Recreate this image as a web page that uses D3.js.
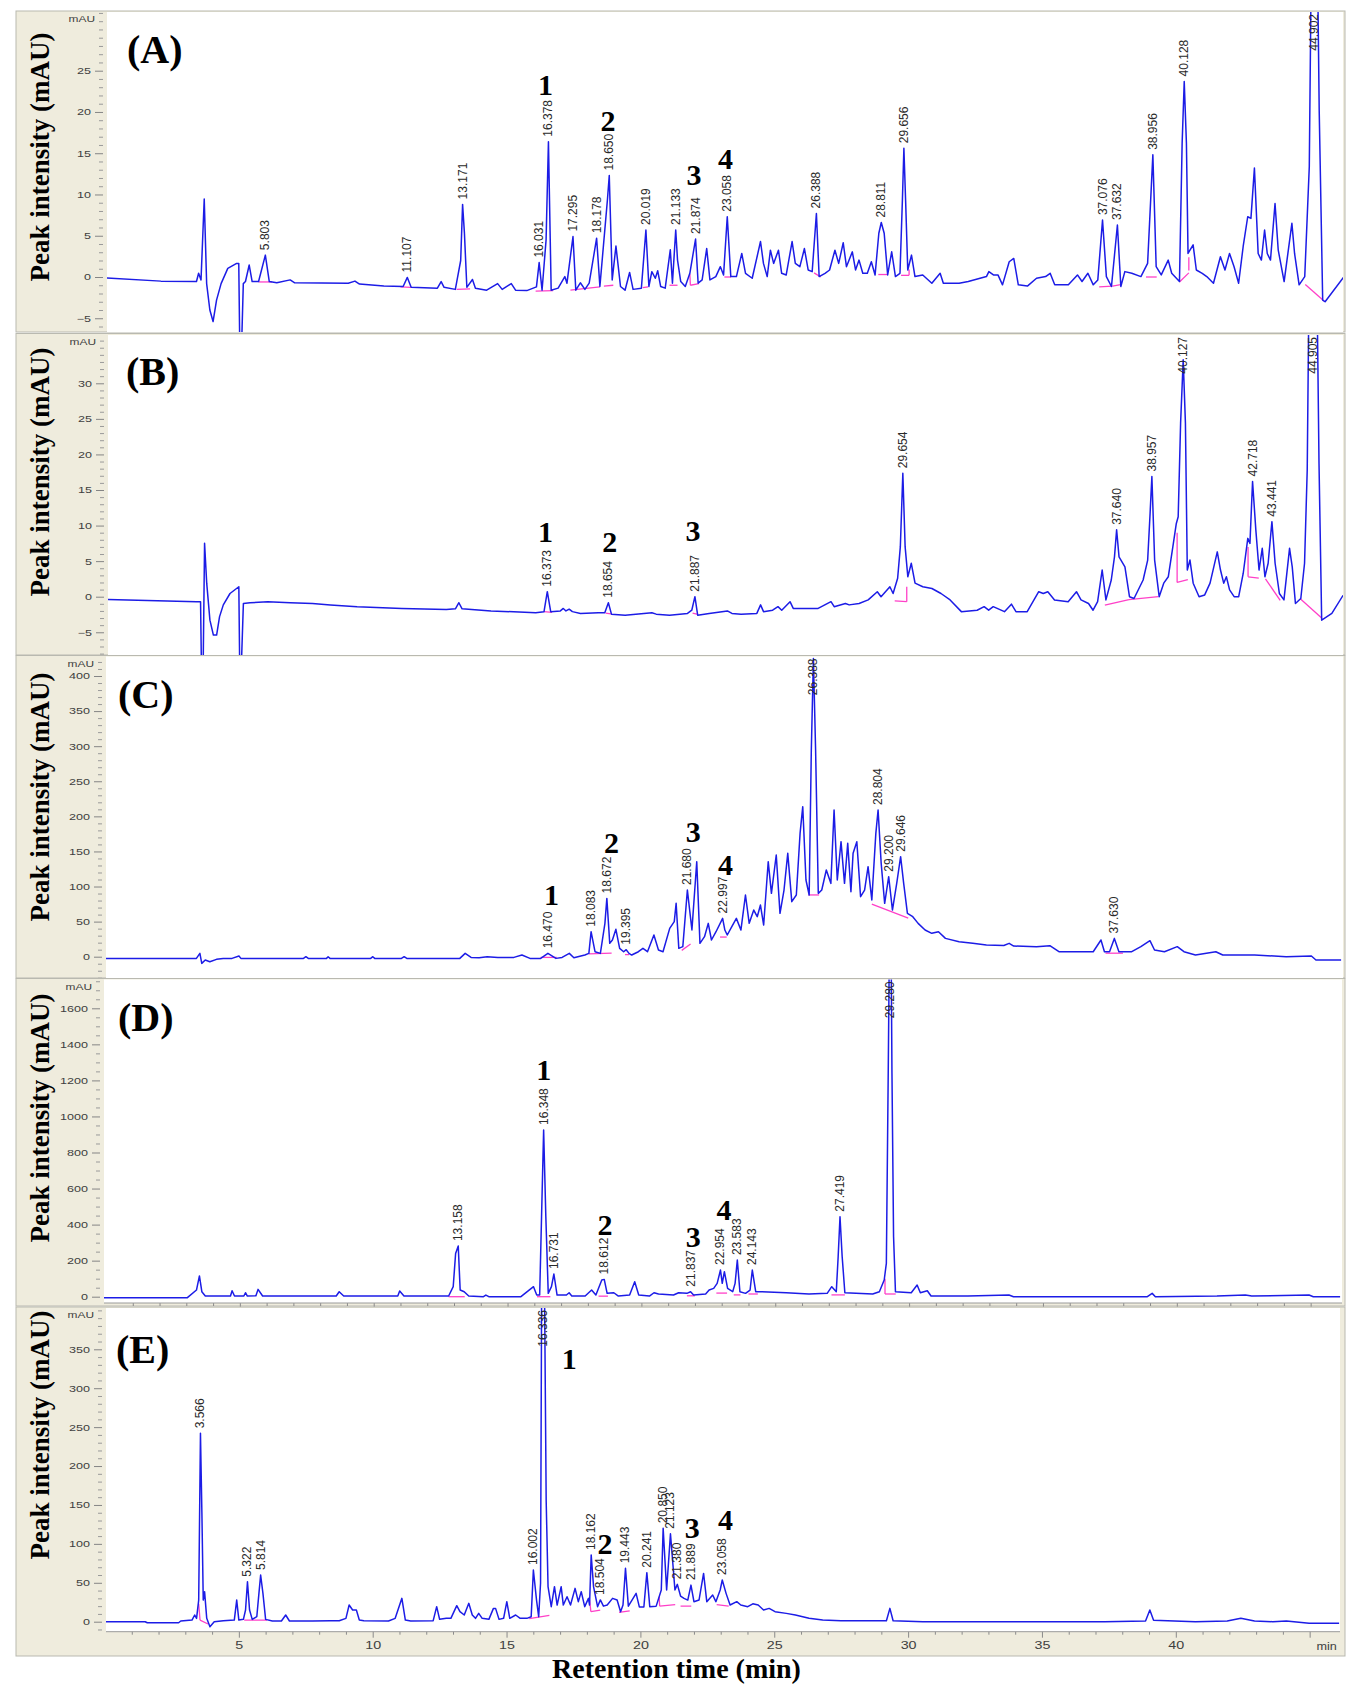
<!DOCTYPE html>
<html><head><meta charset="utf-8">
<script src="https://cdn.jsdelivr.net/npm/d3@7"></script>
<style>body{margin:0;background:#fff}svg{display:block}</style>
</head><body>
<svg id="chart" width="1363" height="1687"></svg>
<script>
// ---------------- DATA (retention time in min, intensity in mAU) ----------------
const timeTicks = [5,10,15,20,25,30,35,40];
const panelIds = ["A","B","C","D","E"];
const panelLetters = ["(A)","(B)","(C)","(D)","(E)"];
const yTitle = "Peak intensity (mAU)";
const xTitle = "Retention time (min)";

const yTicksA = [-5,0,5,10,15,20,25];
const yTicksB = [-5,0,5,10,15,20,25,30];
const yTicksC = [0,50,100,150,200,250,300,350,400];
const yTicksD = [0,200,400,600,800,1000,1200,1400,1600];
const yTicksE = [0,50,100,150,200,250,300,350];

const traceA = [[-0.15,-0.1],[1.9,-0.5],[3.23,-0.55],[3.31,0.45],[3.40,-0.35],[3.52,9.45],[3.61,-0.8],[3.73,-4.0],[3.85,-5.4],[3.98,-2.8],[4.15,-0.8],[4.40,1.05],[4.73,1.65],[4.81,1.65],[4.85,-9],[4.91,-9],[4.98,-0.8],[5.06,-0.55],[5.20,1.45],[5.31,-0.55],[5.55,-0.55],[5.803,2.65],[5.95,-0.55],[6.23,-0.7],[6.73,-0.35],[6.90,-0.7],[8.9,-0.75],[9.15,-0.5],[9.32,-0.85],[10.23,-1.1],[10.95,-1.15],[11.107,-0.05],[11.25,-1.25],[12.23,-1.35],[12.37,-0.55],[12.48,-1.25],[12.9,-1.5],[13.1,2.0],[13.171,8.8],[13.24,5.3],[13.33,-1.25],[13.54,-0.3],[13.65,-1.35],[14.07,-1.6],[14.48,-0.8],[14.65,-1.5],[14.99,-0.8],[15.15,-1.6],[15.57,-1.65],[15.93,-1.2],[16.031,1.75],[16.14,-1.6],[16.29,4.5],[16.378,16.4],[16.48,-1.6],[16.74,-1.35],[16.99,0.05],[17.07,-0.75],[17.295,4.9],[17.40,-1.6],[17.57,-0.7],[17.74,-1.5],[17.90,-0.75],[18.178,4.7],[18.30,-1.15],[18.58,9.3],[18.650,12.3],[18.76,-0.35],[18.90,3.75],[19.07,-1.15],[19.24,-1.6],[19.41,0.55],[19.54,-1.5],[19.85,-1.35],[20.019,5.7],[20.13,-1.15],[20.24,0.65],[20.37,-0.15],[20.46,0.75],[20.57,-1.15],[20.74,-1.35],[20.93,3.3],[21.01,-0.75],[21.133,5.7],[21.2,2.05],[21.32,-0.55],[21.49,-1.15],[21.66,0.45],[21.874,4.6],[21.97,-0.75],[22.12,-0.35],[22.29,3.45],[22.41,-0.35],[22.63,0.05],[22.80,1.25],[22.92,0.25],[23.058,7.3],[23.19,0.05],[23.40,0.05],[23.60,2.85],[23.74,0.45],[23.99,-0.15],[24.30,4.3],[24.41,1.65],[24.55,0.05],[24.67,3.25],[24.79,1.65],[24.97,3.25],[25.09,0.45],[25.26,0.25],[25.48,4.3],[25.60,1.65],[25.77,1.25],[25.94,3.45],[26.08,0.85],[26.23,0.65],[26.388,7.7],[26.49,0.05],[26.71,0.45],[26.88,0.85],[27.08,3.25],[27.22,1.65],[27.39,4.15],[27.51,1.25],[27.73,3.05],[27.85,0.85],[27.98,2.05],[28.12,0.45],[28.29,0.45],[28.44,1.85],[28.58,0.25],[28.72,5.3],[28.811,6.6],[28.92,5.3],[29.05,0.25],[29.20,3.05],[29.34,0.05],[29.51,0.45],[29.60,9.3],[29.656,15.6],[29.72,9.3],[29.80,0.85],[29.94,2.65],[30.07,0.05],[30.36,0.25],[30.70,-0.75],[31.01,0.45],[31.13,-0.75],[31.72,-0.75],[32.06,-0.55],[32.74,0.05],[32.83,0.65],[33.0,0.25],[33.17,0.25],[33.34,-0.95],[33.59,1.85],[33.76,2.25],[33.93,-0.95],[34.27,-1.1],[34.61,-0.15],[34.95,0.05],[35.12,0.45],[35.29,-0.95],[35.80,-0.95],[36.14,0.25],[36.31,-0.55],[36.53,0.45],[36.73,-0.95],[36.90,-0.35],[37.076,6.9],[37.22,0.05],[37.41,-1.15],[37.632,6.3],[37.76,-1.15],[37.91,0.65],[38.17,0.45],[38.51,0.05],[38.76,1.65],[38.956,14.8],[39.08,1.25],[39.27,0.25],[39.53,2.05],[39.66,0.45],[39.95,-0.55],[40.05,16.2],[40.128,23.7],[40.21,16.2],[40.27,2.85],[40.46,3.9],[40.58,0.85],[40.8,0.45],[40.97,0.05],[41.22,-0.75],[41.48,2.45],[41.65,0.85],[41.82,2.85],[41.99,1.25],[42.16,-0.75],[42.33,3.7],[42.50,7.3],[42.62,7.1],[42.75,13.2],[42.89,2.85],[43.01,2.05],[43.13,5.7],[43.23,2.85],[43.35,2.05],[43.52,8.9],[43.64,3.25],[43.86,-0.55],[44.15,6.5],[44.25,2.85],[44.42,-0.95],[44.63,0.05],[44.80,13.4],[44.88,40],[44.902,40],[45.10,40],[45.17,20.2],[45.30,-2.8],[45.39,-3.0],[46.1,0.05]];

const traceB = [[-0.15,-0.4],[3.27,-0.7],[3.42,-0.7],[3.45,-9],[3.52,-9],[3.57,7.5],[3.65,1.9],[3.77,-3.3],[3.90,-5.4],[4.02,-5.4],[4.13,-2.8],[4.27,-1.15],[4.52,0.45],[4.85,1.4],[4.88,-9],[4.95,-9],[5.02,-0.95],[5.27,-0.85],[5.93,-0.7],[6.77,-0.85],[7.60,-0.95],[8.27,-1.15],[9.27,-1.4],[10.94,-1.65],[12.6,-1.8],[12.94,-1.7],[13.07,-0.85],[13.19,-1.7],[14.27,-2.0],[15.94,-2.25],[16.25,-2.1],[16.373,0.7],[16.50,-2.1],[16.86,-2.0],[16.97,-1.65],[17.07,-2.0],[17.19,-1.75],[17.31,-2.1],[17.61,-2.35],[18.28,-2.25],[18.52,-2.25],[18.654,-0.85],[18.77,-2.45],[19.28,-2.6],[20.28,-2.25],[20.44,-2.45],[20.94,-2.6],[21.61,-2.35],[21.77,-1.9],[21.887,0.0],[21.99,-2.6],[22.42,-2.35],[23.10,-2.0],[23.27,-2.35],[23.61,-2.45],[24.20,-2.35],[24.34,-1.15],[24.45,-2.1],[24.79,-1.9],[24.99,-1.4],[25.13,-1.9],[25.44,-0.7],[25.56,-1.65],[26.32,-1.65],[26.49,-1.65],[26.97,-0.7],[27.09,-1.4],[27.51,-0.95],[27.65,-1.15],[28.02,-0.95],[28.36,-0.45],[28.70,0.7],[28.84,0.0],[29.17,1.4],[29.29,0.45],[29.46,2.6],[29.56,7.0],[29.654,17.35],[29.74,7.0],[29.84,2.8],[29.97,4.7],[30.11,1.9],[30.40,1.4],[30.74,1.15],[31.08,0.45],[31.42,-0.45],[31.84,-2.1],[32.43,-1.9],[32.69,-1.4],[32.86,-1.9],[33.03,-1.4],[33.45,-2.1],[33.71,-1.05],[33.88,-2.1],[34.30,-2.1],[34.73,0.7],[34.90,0.45],[35.07,0.7],[35.32,-0.45],[35.83,-0.7],[36.14,0.7],[36.31,-0.45],[36.59,-0.95],[36.76,-1.9],[36.93,-0.7],[37.10,3.75],[37.24,-0.45],[37.44,2.35],[37.56,5.6],[37.640,9.4],[37.73,5.6],[37.95,4.2],[38.12,0.0],[38.29,-0.25],[38.63,2.35],[38.80,5.15],[38.89,11.7],[38.957,16.9],[39.06,5.15],[39.23,0.0],[39.40,1.9],[39.57,2.8],[39.74,7.0],[39.87,10.3],[39.94,11.25],[40.03,24.4],[40.127,33.3],[40.21,24.4],[40.28,3.75],[40.38,5.15],[40.50,1.9],[40.72,0.0],[40.93,0.25],[41.13,1.9],[41.40,6.3],[41.52,3.75],[41.64,1.9],[41.74,2.8],[41.86,0.95],[42.03,0.0],[42.20,0.0],[42.37,3.3],[42.54,8.2],[42.62,7.5],[42.718,16.2],[42.84,9.4],[42.96,3.75],[43.08,6.8],[43.18,2.8],[43.30,4.7],[43.441,10.55],[43.56,4.7],[43.72,0.45],[43.89,-0.45],[44.10,6.8],[44.20,4.2],[44.32,-0.95],[44.52,-0.25],[44.66,4.7],[44.76,17.8],[44.83,45],[44.905,45],[45.12,45],[45.20,18.75],[45.30,-3.3],[45.68,-2.35],[46.1,0.2]];

const traceC = [[-0.15,-2.4],[3.34,-2.4],[3.47,4.75],[3.54,-9.5],[3.67,-4.75],[3.84,-7.1],[4.09,-3.8],[4.34,-2.4],[4.67,-2.4],[4.93,0.95],[5.0,-2.4],[7.34,-2.4],[7.43,0],[7.52,-2.4],[8.2,-2.4],[8.26,0],[8.33,-2.4],[9.85,-2.4],[9.93,0],[10.0,-2.4],[11.0,-2.4],[11.1,0],[11.2,-2.4],[13.18,-2.4],[13.38,4.75],[13.6,-1],[13.9,-1.5],[14.2,0],[14.6,-1],[15.2,-1],[15.5,2.4],[15.8,-2.4],[16.2,-2.4],[16.470,4.75],[16.77,-2.4],[17.0,-1],[17.27,4.75],[17.44,-1.4],[17.85,2.4],[18.0,4.75],[18.083,35.6],[18.23,7.1],[18.43,4.75],[18.6,47.5],[18.672,83.1],[18.78,19],[18.88,23.8],[19.01,39.0],[19.15,11.9],[19.30,7.1],[19.395,10],[19.50,4.75],[19.60,2.4],[19.85,7.1],[20.02,11.9],[20.19,7.1],[20.43,30.9],[20.6,9.5],[20.77,7.1],[21.02,40.4],[21.19,49.9],[21.26,76.0],[21.36,11.9],[21.51,14.3],[21.680,95],[21.85,38],[22.03,135.4],[22.15,19],[22.32,28.5],[22.46,47.5],[22.58,23.8],[22.75,35.6],[22.997,54.6],[23.08,38],[23.17,30.9],[23.34,42.8],[23.51,54.6],[23.68,38],[23.85,87.9],[23.99,47.5],[24.16,66.5],[24.29,57],[24.41,73.6],[24.53,45.1],[24.70,135.4],[24.82,90.3],[25.0,144.9],[25.14,61.8],[25.29,95],[25.43,147.3],[25.58,78.4],[25.75,87.9],[25.89,175.8],[25.99,213.8],[26.11,109.3],[26.23,87.9],[26.31,294.5],[26.388,425],[26.47,294.5],[26.57,90.3],[26.70,95],[26.87,123.5],[27.04,104.5],[27.16,209],[27.28,109.3],[27.42,163.9],[27.55,104.5],[27.67,161.5],[27.79,92.6],[27.87,147.3],[28.01,163.9],[28.15,85.5],[28.30,95],[28.43,128.3],[28.57,80.8],[28.72,175.8],[28.804,209],[28.92,133],[29.05,76],[29.200,114],[29.34,66.5],[29.50,104.5],[29.646,142.5],[29.76,104.5],[29.90,61.8],[30.10,57],[30.30,47.5],[30.56,38],[30.81,33.3],[31.06,35.6],[31.32,26.1],[31.83,21.4],[32.34,19],[32.85,16.6],[33.5,16],[33.70,19],[33.87,15.2],[34.72,14.3],[35.22,15.7],[35.56,7.1],[36.24,7.1],[36.84,7.1],[37.13,23.8],[37.26,7.1],[37.45,7.1],[37.630,26.1],[37.80,7.1],[38.28,7.1],[38.62,14.3],[38.96,22.8],[39.13,9.5],[39.5,7.1],[39.98,14.3],[40.23,7.1],[40.66,2.4],[41.42,7.1],[41.68,2.4],[42.87,2.4],[44.05,0],[44.99,1],[45.16,-4.75],[46.1,-4.75]];

const traceD = [[-0.15,-5.5],[3.04,-5.5],[3.38,37],[3.49,115],[3.58,27.7],[3.71,3.7],[4.21,3.7],[4.65,3.7],[4.71,33],[4.8,3.7],[5.15,3.7],[5.21,22],[5.28,3.7],[5.6,5],[5.68,40.7],[5.85,3.7],[6.38,3.7],[8.6,3.7],[8.71,27.7],[8.88,3.7],[9.55,3.7],[10.9,3.7],[10.97,31.4],[11.13,3.7],[12.8,3.7],[12.97,55.5],[13.06,240],[13.158,281],[13.23,37],[13.38,27.7],[13.55,3.7],[14.1,0],[14.19,9.2],[14.3,0],[15.5,0],[15.97,55.5],[16.09,9.2],[16.2,9.2],[16.27,444],[16.348,925],[16.43,444],[16.52,18.5],[16.64,55.5],[16.731,126],[16.85,9.2],[17.2,9.2],[17.30,22.2],[17.4,3.7],[17.9,3.7],[18.14,37],[18.3,9.2],[18.52,92.5],[18.612,96],[18.72,18.5],[18.97,22],[19.14,3.7],[19.56,9.2],[19.75,83],[19.9,9.2],[20.3,3.7],[20.47,22],[20.64,14.8],[21.2,9.2],[21.39,22],[21.7,18.5],[21.837,27.7],[21.95,9.2],[22.4,14.8],[22.53,37],[22.70,46],[22.83,74],[22.954,148],[23.02,74],[23.10,139],[23.22,46],[23.41,27.7],[23.50,74],[23.583,203],[23.68,27.7],[23.89,18.5],[24.06,37],[24.143,148],[24.27,27.7],[24.48,27.7],[25.41,22],[26.26,14.8],[26.94,18.5],[27.11,55.5],[27.28,27.7],[27.35,222],[27.419,444],[27.50,222],[27.6,22],[28.64,14.8],[28.89,27.7],[29.07,92.5],[29.15,185],[29.22,1239],[29.26,1900],[29.280,1900],[29.33,1900],[29.36,1239],[29.42,333],[29.49,27.7],[30.08,22],[30.30,64.7],[30.42,22],[30.68,33.3],[30.82,3.7],[31.36,3.7],[32.2,3.7],[33.73,9.2],[33.9,0],[38.9,0],[39.08,18.5],[39.2,0],[41.5,3.7],[42.56,9.2],[42.8,3.7],[44.94,9.2],[45.1,0],[46.1,0]];

const traceE = [[-0.15,0],[1.5,0],[1.58,-1.3],[2.75,-1.3],[2.83,0.9],[3.25,2.1],[3.35,8.6],[3.42,4.3],[3.50,27.8],[3.566,242],[3.62,139],[3.67,27.8],[3.72,38.6],[3.80,4.3],[3.92,-6.4],[4.08,0],[4.42,1.3],[4.83,2.1],[4.92,27.8],[5.0,2.1],[5.17,3],[5.25,15],[5.322,51.4],[5.40,15],[5.50,3],[5.67,6.4],[5.75,36.4],[5.814,60],[5.90,36.4],[6.0,3],[6.25,0.9],[6.59,0.9],[6.75,8.6],[6.89,0.9],[7.75,0.9],[8.42,1.3],[8.75,1.3],[9.0,4.3],[9.12,21.4],[9.25,15],[9.39,15],[9.50,2.1],[9.67,1.3],[10.59,0.9],[10.84,4.3],[11.09,30],[11.22,2.1],[11.42,0.9],[12.26,1.3],[12.39,19.3],[12.50,3],[12.75,4.3],[12.92,4.3],[13.14,20.6],[13.26,12.9],[13.42,8.6],[13.59,23.6],[13.72,8.6],[13.84,4.3],[13.96,10.7],[14.09,4.3],[14.34,3],[14.51,17.1],[14.59,17.1],[14.72,3],[14.89,4.3],[15.01,25.7],[15.12,4.3],[15.34,8.6],[15.51,4.3],[15.76,4.3],[15.92,6.4],[16.002,66.4],[16.12,27.8],[16.20,6.4],[16.27,49.3],[16.31,420],[16.336,420],[16.42,420],[16.48,156],[16.55,45],[16.67,19.3],[16.79,45],[16.89,21.4],[17.04,45],[17.12,21.4],[17.26,32.1],[17.39,21.4],[17.56,42.8],[17.68,25.7],[17.79,38.6],[17.92,19.3],[18.06,30],[18.10,21.4],[18.162,85.7],[18.25,45],[18.40,19.3],[18.504,28],[18.62,20],[18.76,21.4],[18.96,30],[19.13,27.8],[19.26,12.9],[19.35,21.4],[19.443,68.6],[19.55,20],[19.84,36.4],[19.96,19],[20.13,19],[20.241,63],[20.35,19.3],[20.59,20],[20.78,40.7],[20.850,120],[20.98,40.7],[21.123,113],[21.20,80],[21.29,40.7],[21.380,48],[21.50,33],[21.63,30],[21.77,27.8],[21.889,47],[22.0,25.7],[22.19,27.8],[22.36,62],[22.48,25.7],[22.70,34.3],[22.82,25.7],[22.98,40.7],[23.058,53.6],[23.2,36.4],[23.35,21.4],[23.60,25.7],[23.75,21.4],[24.01,19.3],[24.20,23],[24.40,21.4],[24.60,15],[24.81,17.1],[25.03,12.9],[25.45,10.7],[25.79,8.6],[26.30,4.3],[26.81,2.1],[27.49,1.3],[29.19,1.3],[29.32,17.1],[29.44,1.3],[30.55,0],[33.94,0],[37.34,0],[38.87,0.9],[39.03,15],[39.17,2],[40.73,0],[41.92,0.9],[42.43,4.3],[42.94,0.9],[43.62,0],[44.13,0.9],[44.98,-2.1],[46.1,-2.1]];

// retention-time labels printed above peaks
const peakLabelsA = ["5.803","11.107","13.171","16.031","16.378","17.295","18.178","18.650","20.019","21.133","21.874","23.058","26.388","28.811","29.656","37.076","37.632","38.956","40.128","44.902"];
const peakLabelsB = ["16.373","18.654","21.887","29.654","37.640","38.957","40.127","42.718","43.441","44.905"];
const peakLabelsC = ["16.470","18.083","18.672","19.395","21.680","22.997","26.388","28.804","29.200","29.646","37.630"];
const peakLabelsD = ["13.158","16.348","16.731","18.612","21.837","22.954","23.583","24.143","27.419","29.280"];
const peakLabelsE = ["3.566","5.322","5.814","16.002","16.336","18.162","18.504","19.443","20.241","20.850","21.123","21.380","21.889","23.058"];

// compound numbers [text, time, mAU]
const compoundTagsA = [["1",16.27,23.3],["2",18.60,19.0],["3",21.82,12.4],["4",22.99,14.4]];
const compoundTagsB = [["1",16.31,9.2],["2",18.71,7.8],["3",21.82,9.3]];
const compoundTagsC = [["1",16.60,88],["2",18.85,163],["3",21.90,179],["4",23.10,131]];
const compoundTagsD = [["1",16.35,1262],["2",18.64,403],["3",21.94,333],["4",23.09,485]];
const compoundTagsE = [["1",17.34,338],["2",18.68,100],["3",21.94,121],["4",23.18,131]];

// integration baselines [t1, v1, t2, v2]
const integrationA = [[5.55,-0.6,6.05,-0.6],[10.85,-1.2,11.25,-1.25],[12.95,-1.5,13.45,-1.45],[15.9,-1.7,16.55,-1.65],[17.2,-1.6,18.3,-1.2],[18.45,-1.1,18.8,-1.0],[19.9,-1.3,20.1,-1.2],[20.9,-1.0,21.2,-1.0],[21.66,0.4,21.68,-1.0],[21.68,-1.0,22.0,-0.8],[22.95,0.0,23.2,0.0],[26.3,0.5,26.55,0.0],[28.7,0.3,29.05,0.3],[29.55,0.2,29.85,0.2],[29.85,0.2,29.85,0.9],[36.95,-1.2,37.45,-1.1],[37.45,-1.1,37.8,-0.9],[38.7,0.0,39.1,0.0],[39.95,-0.6,40.3,0.5],[40.3,0.8,40.3,2.4],[44.65,-0.9,45.35,-2.9]];
const integrationB = [[16.25,-2.1,16.55,-2.2],[18.55,-2.3,18.75,-2.4],[21.8,-2.3,22.0,-2.5],[29.35,-0.6,29.8,-0.7],[29.8,-0.7,29.8,1.4],[37.2,-1.2,38.1,-0.4],[38.1,-0.4,39.2,0.0],[39.9,9.0,39.9,2.0],[39.9,2.0,40.3,2.4],[42.55,7.0,42.55,2.8],[42.55,2.8,42.95,2.6],[43.2,2.5,43.75,-0.5],[44.5,-0.3,45.3,-3.0]];
const integrationC = [[16.2,-1,16.8,-1],[18.0,4,18.85,5],[19.35,3,19.5,3],[21.47,9,21.8,18],[22.9,28,23.15,28],[26.2,88,26.6,88],[28.57,75,29.93,55],[37.3,5,37.95,5]];
const integrationD = [[12.8,0,13.4,0],[16.1,0,16.6,0],[18.4,3,18.75,3],[21.7,5,22.0,5],[22.8,20,23.2,20],[23.45,10,23.7,10],[24.0,15,24.35,15],[27.1,10,27.6,10],[29.1,100,29.1,15],[29.1,15,29.5,15]];
const integrationE = [[3.5,23,3.55,2],[3.55,2,3.85,-3],[5.2,2,6.05,2],[15.85,4,16.6,8],[18.1,28,18.15,13],[18.15,13,18.5,15],[19.2,12,19.6,14],[20.7,32,20.72,20],[20.72,20,21.3,22],[21.5,20,21.9,20],[22.85,22,23.3,20]];

// ---------------- LAYOUT ----------------
const PX_PER_MIN = 26.77, FRAME_L = 16, FRAME_R = 1345;
const layout = [
  {top:11, bottom:332, plotTop:12, plotBottom:332, plotLeft:107, plotRight:1343, x0:110, y0:277, refV:25, refPx:70.7, minor:1, titleCy:157, letterX:127, letterY:63},
  {top:333.5, bottom:655, plotTop:335, plotBottom:655, plotLeft:108, plotRight:1343, x0:109, y0:596.7, refV:30, refPx:383.3, minor:1, titleCy:472, letterX:126, letterY:385},
  {top:655.5, bottom:978, plotTop:656.5, plotBottom:978, plotLeft:106, plotRight:1343, x0:107, y0:956.7, refV:400, refPx:676, minor:10, titleCy:797, letterX:118, letterY:708},
  {top:978.5, bottom:1306, plotTop:979.5, plotBottom:1303, plotLeft:104, plotRight:1342, x0:106, y0:1296.7, refV:1600, refPx:1008.3, minor:50, titleCy:1118, letterX:118, letterY:1031, ruler:true},
  {top:1307, bottom:1656, plotTop:1308, plotBottom:1631.7, plotLeft:106, plotRight:1340, x0:105, y0:1621.7, refV:350, refPx:1349.3, minor:10, titleCy:1435, letterX:116, letterY:1363, axis:true}
];
const serif = "'Liberation Serif','Times New Roman',Times,serif";
const sans = "Arial,'Liberation Sans',Helvetica,sans-serif";
const traces = [traceA,traceB,traceC,traceD,traceE];
const labelsAll = [peakLabelsA,peakLabelsB,peakLabelsC,peakLabelsD,peakLabelsE];
const tagsAll = [compoundTagsA,compoundTagsB,compoundTagsC,compoundTagsD,compoundTagsE];
const integAll = [integrationA,integrationB,integrationC,integrationD,integrationE];
const yTicksAll = [yTicksA,yTicksB,yTicksC,yTicksD,yTicksE];

const svg = d3.select("#chart");
svg.append("rect").attr("width",1363).attr("height",1687).attr("fill","#fff");
const defs = svg.append("defs");

panelIds.forEach((id,i)=>{
  const L = layout[i];
  const x = d3.scaleLinear().domain([0,40]).range([L.x0, L.x0 + 40*PX_PER_MIN]);
  const y = d3.scaleLinear().domain([0,L.refV]).range([L.y0, L.refPx]);
  const g = svg.append("g");
  g.append("rect").attr("x",FRAME_L).attr("y",L.top).attr("width",FRAME_R-FRAME_L).attr("height",L.bottom-L.top)
    .attr("fill","#efecdd").attr("stroke","#b9b9b0").attr("stroke-width",1);
  g.append("rect").attr("x",L.plotLeft).attr("y",L.plotTop).attr("width",L.plotRight-L.plotLeft).attr("height",L.plotBottom-L.plotTop).attr("fill","#fff");

  defs.append("clipPath").attr("id","clip"+id).append("rect")
    .attr("x",L.plotLeft).attr("y",L.plotTop).attr("width",L.plotRight-L.plotLeft).attr("height",L.plotBottom-L.plotTop);
  const plot = g.append("g").attr("clip-path",`url(#clip${id})`);

  // integration baselines
  plot.selectAll("line.integ").data(integAll[i]).join("line").attr("class","integ")
    .attr("x1",d=>x(d[0])).attr("y1",d=>y(d[1])).attr("x2",d=>x(d[2])).attr("y2",d=>y(d[3]))
    .attr("stroke","#ff40c8").attr("stroke-width",1.3);

  // trace
  plot.append("path").datum(traces[i])
    .attr("d", d3.line().x(d=>x(d[0])).y(d=>y(d[1])))
    .attr("fill","none").attr("stroke","#1c1ce6").attr("stroke-width",1.5).attr("stroke-linejoin","round");

  // y axis major
  const vTop = y.invert(L.plotTop), vBot = y.invert(L.plotBottom);
  const yAxis = d3.axisLeft(y).tickValues(yTicksAll[i]).tickSize(8).tickPadding(4).tickSizeOuter(0).tickFormat(d3.format("d"));
  const ag = g.append("g").attr("transform",`translate(${L.plotLeft-4},0)`).call(yAxis);
  ag.select(".domain").remove();
  ag.selectAll("line").attr("stroke","#858585");
  ag.selectAll("text").attr("font-family",sans).attr("font-size",9).attr("fill","#404040")
    .attr("x",-12/1.4).attr("transform","scale(1.4,1)");
  // y axis minor
  const minorVals = d3.range(Math.ceil(vBot/L.minor)*L.minor, vTop, L.minor).filter(v=>!yTicksAll[i].includes(v));
  const mg = g.append("g").attr("transform",`translate(${L.plotLeft-4},0)`)
    .call(d3.axisLeft(y).tickValues(minorVals).tickSize(4).tickFormat("").tickSizeOuter(0));
  mg.select(".domain").remove();
  mg.selectAll("line").attr("stroke","#9a9a9a");
  g.append("text").text("mAU").attr("font-family",sans).attr("font-size",8.5).attr("fill","#404040")
    .attr("text-anchor","end").attr("dy","0.35em")
    .attr("transform",`translate(${L.plotLeft-12},${L.plotTop+7.5}) scale(1.4,1)`);

  // bottom ruler / axis
  if (L.axis || L.ruler) {
    const major = timeTicks.concat([45]);
    const ax = d3.axisBottom(x).tickValues(major).tickSize(L.axis?6:5).tickPadding(4).tickSizeOuter(0)
      .tickFormat(t => (L.axis && t!==45) ? t : "");
    const xg = g.append("g").attr("transform",`translate(0,${L.plotBottom})`).call(ax);
    xg.select(".domain").remove();
    xg.selectAll("line").attr("stroke","#8a8a8a");
    xg.selectAll("text").attr("font-family",sans).attr("font-size",11).attr("fill","#404040").attr("transform","scale(1.3,1)");
    const minorT = d3.range(1,46).filter(t=>t%5!==0);
    const xm = g.append("g").attr("transform",`translate(0,${L.plotBottom})`)
      .call(d3.axisBottom(x).tickValues(minorT).tickSize(3).tickFormat("").tickSizeOuter(0));
    xm.select(".domain").remove();
    xm.selectAll("line").attr("stroke","#8a8a8a");
    g.append("line").attr("x1",L.plotLeft).attr("x2",L.plotRight).attr("y1",L.plotBottom).attr("y2",L.plotBottom)
      .attr("stroke","#9a9a9a").attr("stroke-width",1);
    if (L.axis) {
      g.append("text").text("min").attr("font-family",sans).attr("font-size",11).attr("fill","#404040")
        .attr("text-anchor","middle").attr("dy","0.71em")
        .attr("transform",`translate(${x(45)+17},${L.plotBottom+10}) scale(1.15,1)`);
    }
  }

  // retention-time labels
  const tr = traces[i];
  const lg = g.append("g");
  labelsAll[i].forEach(s=>{
    const t = +s;
    let idx = d3.minIndex(tr, p=>Math.abs(p[0]-t));
    let lx = tr[idx][0], v = tr[idx][1];
    if (v > vTop) {
      let a = idx, b = idx;
      while (a>0 && tr[a-1][1] > vTop) a--;
      while (b<tr.length-1 && tr[b+1][1] > vTop) b++;
      lx = (tr[a][0]+tr[b][0])/2;
    }
    const txt = lg.append("text").text(s).attr("font-family",sans).attr("font-size",12).attr("fill","#2a2a2a")
      .attr("dominant-baseline","central");
    const len = txt.node().getComputedTextLength();
    const yb = Math.max(y(Math.min(v,vTop)) - 5, L.plotTop + len + 2);
    txt.attr("transform",`translate(${x(lx)},${yb}) rotate(-90)`);
  });

  // compound numbers
  g.selectAll("text.tag").data(tagsAll[i]).join("text").attr("class","tag")
    .attr("x",d=>x(d[1])).attr("y",d=>y(d[2])).text(d=>d[0])
    .attr("font-family",serif).attr("font-weight","bold").attr("font-size",30)
    .attr("text-anchor","middle").attr("dominant-baseline","central").attr("fill","#000");

  // panel letter
  g.append("text").text(panelLetters[i]).attr("x",L.letterX).attr("y",L.letterY)
    .attr("font-family",serif).attr("font-weight","bold").attr("font-size",40).attr("fill","#000");

  // y title
  g.append("text").text(yTitle).attr("transform",`translate(40,${L.titleCy}) rotate(-90)`)
    .attr("text-anchor","middle").attr("dominant-baseline","central")
    .attr("font-family",serif).attr("font-weight","bold").attr("font-size",27).attr("fill","#000");
});

svg.append("text").text(xTitle).attr("x",676.5).attr("y",1677.5).attr("text-anchor","middle")
  .attr("font-family",serif).attr("font-weight","bold").attr("font-size",28).attr("fill","#000");
</script>
</body></html>
